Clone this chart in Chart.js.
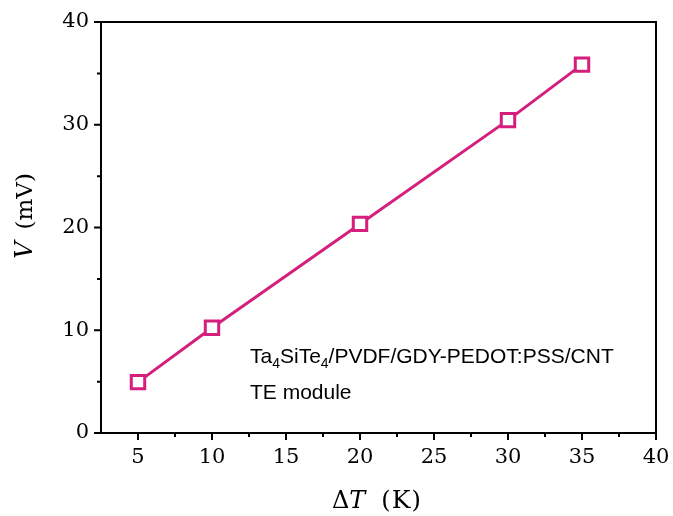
<!DOCTYPE html>
<html>
<head>
<meta charset="utf-8">
<script src="https://cdn.jsdelivr.net/npm/chart.js@4/dist/chart.umd.min.js"></script>
<style>
  html, body { margin: 0; padding: 0; background: #fff; }
  #wrap { width: 673px; height: 516px; }
</style>
</head>
<body>
<div id="wrap"><canvas id="voltageChart"></canvas></div>
<script>
// temperature difference (K) and output voltage (mV)
const deltaT = [5, 10, 20, 30, 35];
const voltage = [4.95, 10.25, 20.35, 30.45, 35.85];

const xMajorTicks = [5, 10, 15, 20, 25, 30, 35, 40];
const xMinorTicks = [7.5, 12.5, 17.5, 22.5, 27.5, 32.5, 37.5];
const yMajorTicks = [0, 10, 20, 30, 40];
const yMinorTicks = [5, 15, 25, 35];

const lineColor = '#d41f7c';
const serif = '"DejaVu Serif", serif';
const sans = '"Liberation Sans", Arial, sans-serif';

// sample label, subscripts flagged
const noteLine1 = [
    { text: 'Ta' }, { text: '4', sub: true }, { text: 'SiTe' }, { text: '4', sub: true },
    { text: '/PVDF/GDY-PEDOT:PSS/CNT' }
];
const noteLine2 = [{ text: 'TE module' }];

function drawRich(ctx, parts, x, y, size) {
    let cx = x;
    parts.forEach(p => {
        const fs = p.sub ? Math.round(size * 0.68) : size;
        ctx.font = `${fs}px ${sans}`;
        ctx.fillText(p.text, cx, p.sub ? y + 5 : y);
        cx += ctx.measureText(p.text).width;
    });
}

// draws pieces with their own fonts and gaps, starting at x
function drawPieces(ctx, pieces, x, y) {
    let cx = x;
    pieces.forEach(p => {
        ctx.font = p.font;
        cx += p.gap || 0;
        ctx.fillText(p.text, cx, y);
        cx += ctx.measureText(p.text).width;
    });
    return cx - x;
}

const framePlugin = {
    id: 'frame',
    afterDraw(chart) {
        const { ctx, chartArea: a, scales: { x, y } } = chart;
        ctx.save();
        ctx.strokeStyle = '#000';
        ctx.lineWidth = 2;
        ctx.strokeRect(a.left, a.top, a.right - a.left, a.bottom - a.top);

        // outward ticks on bottom and left axes
        ctx.lineWidth = 2;
        ctx.beginPath();
        xMajorTicks.forEach(v => { const px = x.getPixelForValue(v); ctx.moveTo(px, a.bottom); ctx.lineTo(px, a.bottom + 7); });
        xMinorTicks.forEach(v => { const px = x.getPixelForValue(v); ctx.moveTo(px, a.bottom); ctx.lineTo(px, a.bottom + 4); });
        yMajorTicks.forEach(v => { const py = y.getPixelForValue(v); ctx.moveTo(a.left, py); ctx.lineTo(a.left - 7, py); });
        yMinorTicks.forEach(v => { const py = y.getPixelForValue(v); ctx.moveTo(a.left, py); ctx.lineTo(a.left - 4, py); });
        ctx.stroke();

        ctx.fillStyle = '#000';
        ctx.textBaseline = 'alphabetic';
        ctx.textAlign = 'left';
        drawRich(ctx, noteLine1, 250, 363, 21);
        drawRich(ctx, noteLine2, 250, 399, 21);

        // x title: ΔT (K)
        const xTitle = [
            { text: 'Δ', font: `24px ${serif}` },
            { text: 'T', font: `italic 24px ${serif}` },
            { text: '(', font: `24px ${serif}`, gap: 16 },
            { text: 'K', font: `25px ${serif}`, gap: 1 },
            { text: ')', font: `24px ${serif}`, gap: 1 }
        ];
        drawPieces(ctx, xTitle, 332, 508);

        // y title: V (mV), rotated
        ctx.translate(26, 216);
        ctx.rotate(-Math.PI / 2);
        ctx.textBaseline = 'middle';
        const yTitle = [
            { text: 'V', font: `italic 24px ${serif}` },
            { text: '(mV)', font: `23px ${serif}`, gap: 12 }
        ];
        ctx.globalAlpha = 0;
        const w = drawPieces(ctx, yTitle, 0, 0);
        ctx.globalAlpha = 1;
        drawPieces(ctx, yTitle, -w / 2, 0);
        ctx.restore();
    }
};

new Chart(document.getElementById('voltageChart'), {
    type: 'scatter',
    data: {
        datasets: [{
            data: deltaT.map((t, i) => ({ x: t, y: voltage[i] })),
            showLine: true,
            borderColor: lineColor,
            borderWidth: 3,
            pointStyle: 'rect',
            pointRadius: 9.5,
            pointHoverRadius: 9.5,
            pointBorderWidth: 3,
            pointBorderColor: lineColor,
            pointBackgroundColor: '#fff'
        }]
    },
    options: {
        responsive: true,
        maintainAspectRatio: false,
        animation: false,
        layout: { padding: { left: 0, top: 22, right: 17, bottom: 0 } },
        plugins: { legend: { display: false }, tooltip: { enabled: false } },
        scales: {
            x: {
                type: 'linear',
                min: 2.5,
                max: 40,
                grid: { display: false, drawTicks: false },
                border: { display: false },
                afterBuildTicks: s => { s.ticks = xMajorTicks.map(v => ({ value: v })); },
                afterFit: s => { s.height = 83; s.paddingLeft = 0; s.paddingRight = 0; },
                ticks: { color: '#000', font: { family: serif, size: 21 }, padding: 12, maxRotation: 0 }
            },
            y: {
                type: 'linear',
                min: 0,
                max: 40,
                grid: { display: false, drawTicks: false },
                border: { display: false },
                afterBuildTicks: s => { s.ticks = yMajorTicks.map(v => ({ value: v })); },
                afterFit: s => { s.width = 101; s.paddingTop = 0; s.paddingBottom = 0; },
                ticks: { color: '#000', font: { family: serif, size: 21 }, padding: 12 }
            }
        }
    },
    plugins: [framePlugin]
});
</script>
</body>
</html>
